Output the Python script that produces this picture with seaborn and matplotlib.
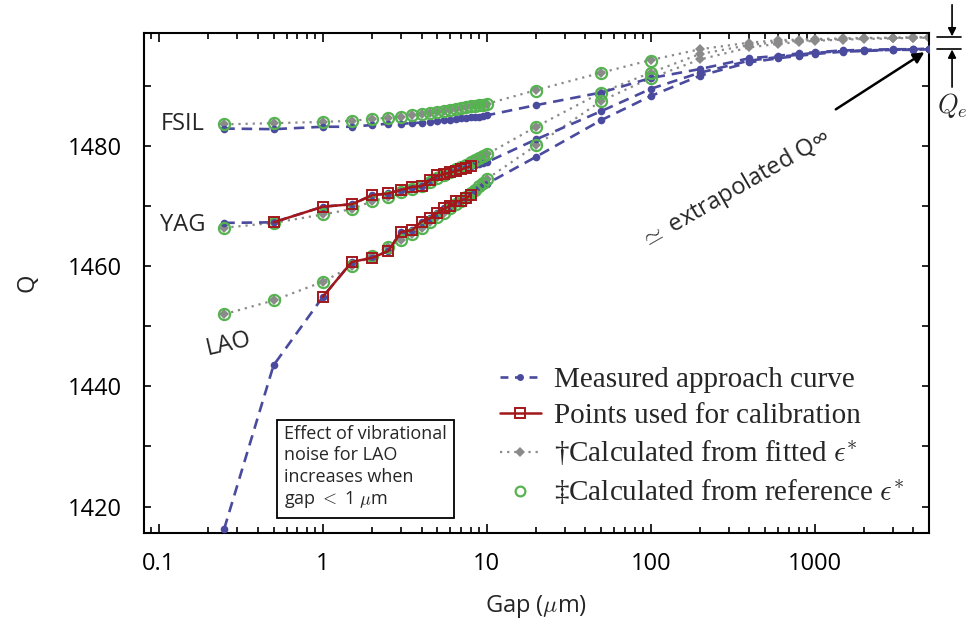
import matplotlib
matplotlib.use("Agg")
import matplotlib.pyplot as plt
import matplotlib.ticker as mticker
from matplotlib.lines import Line2D
from matplotlib.transforms import blended_transform_factory
import seaborn as sns

# ---- gap positions (micrometres) ----
gap_near = [0.25, 0.5, 1, 1.5, 2, 2.5, 3, 3.5, 4, 4.5, 5, 5.5, 6, 6.5, 7,
            7.5, 8, 8.5, 9, 9.5, 10]
gap_mid = [20, 50, 100]
gap_far = [200, 400, 600, 800, 1000, 1500, 2000, 3000, 4000, 5000]

# ---- measured approach curves ----
fsil_meas = [1482.9, 1482.8, 1483.2, 1483.2, 1483.5, 1483.7, 1483.7, 1483.8,
             1483.9, 1484.0, 1484.1, 1484.3, 1484.4, 1484.5, 1484.6, 1484.7,
             1484.8, 1484.8, 1484.9, 1485.0, 1485.1,
             1486.8, 1488.9, 1491.3,
             1492.8, 1494.6, 1495.0, 1495.4, 1495.6, 1495.9, 1496.0, 1496.1,
             1496.1, 1496.2]
yag_meas = [1467.2, 1467.3, 1469.9, 1470.3, 1471.8, 1472.1, 1472.7, 1473.2,
            1473.3, 1474.3, 1475.1, 1475.3, 1475.6, 1475.8, 1476.1, 1476.4,
            1476.6, 1476.8, 1477.0, 1477.2, 1477.3,
            1481.1, 1485.8, 1489.5,
            1492.2, 1494.2, 1494.8, 1495.2, 1495.5, 1495.8, 1495.9, 1496.0,
            1496.1, 1496.1]
lao_meas = [1416.3, 1443.5, 1454.9, 1460.7, 1461.4, 1462.5, 1465.7, 1466.0,
            1467.4, 1468.0, 1468.9, 1469.6, 1470.0, 1470.8, 1470.9, 1471.3,
            1471.9, 1472.5, 1473.0, 1473.4, 1473.7,
            1478.2, 1484.3, 1488.3,
            1491.7, 1493.9, 1494.6, 1495.0, 1495.3, 1495.7, 1495.8, 1496.0,
            1496.0, 1496.1]

# ---- points used for calibration ----
yag_cal_gap = [0.5, 1, 1.5, 2, 2.5, 3, 3.5, 4, 4.5, 5, 5.5, 6, 6.5, 7, 7.5, 8]
yag_cal = [1467.3, 1469.9, 1470.3, 1471.8, 1472.1, 1472.7, 1473.2, 1473.3,
           1474.3, 1475.1, 1475.3, 1475.6, 1475.8, 1476.1, 1476.4, 1476.6]
lao_cal_gap = [1, 1.5, 2, 2.5, 3, 3.5, 4, 4.5, 5, 5.5, 6, 6.5, 7, 7.5, 8]
lao_cal = [1454.9, 1460.7, 1461.4, 1462.5, 1465.7, 1466.0, 1467.4, 1468.0,
           1468.9, 1469.6, 1470.0, 1470.8, 1470.9, 1471.3, 1471.9]

# ---- calculated from fitted epsilon* ----
fsil_fit = [1483.6, 1483.8, 1484.0, 1484.2, 1484.5, 1484.7, 1484.9, 1485.1,
            1485.3, 1485.5, 1485.7, 1485.9, 1486.0, 1486.2, 1486.3, 1486.5,
            1486.6, 1486.7, 1486.8, 1486.9, 1487.0,
            1489.3, 1492.2, 1494.3,
            1496.1, 1497.2, 1497.6, 1497.7, 1497.8, 1497.9, 1498.0, 1498.0,
            1498.1, 1498.1]
yag_fit = [1466.4, 1467.2, 1468.6, 1469.5, 1470.8, 1471.5, 1472.3, 1472.9,
           1473.4, 1474.0, 1474.6, 1475.1, 1475.6, 1476.1, 1476.5, 1476.9,
           1477.3, 1477.7, 1478.0, 1478.3, 1478.6,
           1483.2, 1488.9, 1492.2,
           1495.3, 1496.8, 1497.3, 1497.5, 1497.6, 1497.8, 1497.9, 1498.0,
           1498.0, 1498.1]
lao_fit = [1452.0, 1454.3, 1457.4, 1460.0, 1461.7, 1463.2, 1464.4, 1465.4,
           1466.4, 1467.3, 1468.1, 1468.9, 1469.6, 1470.3, 1470.9, 1471.5,
           1472.1, 1472.7, 1473.3, 1473.9, 1474.5,
           1480.1, 1487.5, 1491.3,
           1494.4, 1496.4, 1497.0, 1497.3, 1497.5, 1497.7, 1497.8, 1497.9,
           1498.0, 1498.0]

# ---- calculated from reference epsilon* ----
fsil_ref = [1483.6, 1483.8, 1484.0, 1484.2, 1484.5, 1484.7, 1484.9, 1485.1,
            1485.3, 1485.5, 1485.7, 1485.9, 1486.0, 1486.2, 1486.3, 1486.5,
            1486.6, 1486.7, 1486.8, 1486.9, 1487.0,
            1489.2, 1492.1, 1494.2]
yag_ref = [1466.4, 1467.2, 1468.6, 1469.5, 1470.8, 1471.5, 1472.3, 1472.9,
           1473.4, 1474.0, 1474.6, 1475.1, 1475.6, 1476.1, 1476.5, 1476.9,
           1477.3, 1477.7, 1478.0, 1478.3, 1478.6,
           1483.1, 1488.9, 1492.2]
lao_ref = [1452.0, 1454.3, 1457.4, 1460.0, 1461.7, 1463.2, 1464.4, 1465.4,
           1466.4, 1467.3, 1468.1, 1468.9, 1469.6, 1470.3, 1470.9, 1471.5,
           1472.1, 1472.7, 1473.3, 1473.9, 1474.5,
           1480.1, 1487.5, 1491.3]

legend_labels = ["Measured approach curve",
                 "Points used for calibration",
                 r"†Calculated from fitted $\epsilon^{*}$",
                 r"‡Calculated from reference $\epsilon^{*}$"]

C_MEAS = "#4a4a9e"
C_CAL = "#a3171a"
C_FIT = "#8a8a8a"
C_REF = "#55b350"

sns.set_theme(style="ticks")
plt.rcParams["font.family"] = ["Open Sans", "DejaVu Sans"]
plt.rcParams["mathtext.fontset"] = "cm"

fig = plt.figure(figsize=(9.71, 6.30), dpi=100)
ax = fig.add_axes([0.1483, 0.154, 0.8085, 0.7936])

gap_all = gap_near + gap_mid + gap_far
gap_ref = gap_near + gap_mid

for vals in (fsil_fit, yag_fit, lao_fit):
    sns.lineplot(x=gap_all, y=vals, ax=ax, estimator=None, sort=False,
                 color=C_FIT, linestyle=(0, (1, 2.2)), lw=1.6, marker="D",
                 markersize=5.5, markeredgewidth=0, zorder=2)

for vals in (fsil_meas, yag_meas, lao_meas):
    sns.lineplot(x=gap_all, y=vals, ax=ax, estimator=None, sort=False,
                 color=C_MEAS, linestyle=(0, (4, 2.6)), lw=1.9, marker="o",
                 markersize=5.5, markeredgewidth=0, zorder=3)

for vals in (fsil_ref, yag_ref, lao_ref):
    sns.lineplot(x=gap_ref, y=vals, ax=ax, estimator=None, sort=False,
                 color=C_REF, linestyle="", marker="o", markersize=8,
                 markerfacecolor="none", markeredgecolor=C_REF,
                 markeredgewidth=1.6, zorder=4)

for gx, vals in ((yag_cal_gap, yag_cal), (lao_cal_gap, lao_cal)):
    sns.lineplot(x=gx, y=vals, ax=ax, estimator=None, sort=False,
                 color=C_CAL, linestyle="-", lw=1.8, marker="s",
                 markersize=7, markerfacecolor="none",
                 markeredgecolor=C_CAL, markeredgewidth=1.4, zorder=5)

# ---- axes ----
ax.set_xscale("log")
ax.set_xlim(0.081, 5000)
ax.set_ylim(1415.6, 1498.8)
ax.xaxis.set_major_locator(mticker.LogLocator(base=10, numticks=10))
ax.xaxis.set_minor_locator(mticker.LogLocator(base=10, subs=range(2, 10), numticks=20))
ax.xaxis.set_major_formatter(mticker.FuncFormatter(lambda v, p: f"{v:g}"))
ax.xaxis.set_minor_formatter(mticker.NullFormatter())
ax.yaxis.set_major_locator(mticker.MultipleLocator(20))
ax.yaxis.set_minor_locator(mticker.MultipleLocator(10))
ax.tick_params(which="both", direction="in", top=True, right=True,
               width=1.2, colors="black", labelsize=17)
ax.tick_params(axis="x", which="major", length=6.5, pad=14)
ax.tick_params(axis="x", which="minor", length=4.3)
ax.tick_params(axis="y", which="both", length=5.0, pad=16)
for sp in ax.spines.values():
    sp.set_linewidth(1.5)
    sp.set_color("black")

ax.set_xlabel(r"Gap ($\mu$m)", fontsize=17, labelpad=12)
ax.set_ylabel("Q", fontsize=17, labelpad=20)

# ---- material labels ----
ax.text(0.102, 1483.6, "FSIL", fontsize=17, ha="left", va="center")
ax.text(0.102, 1466.9, "YAG", fontsize=17, ha="left", va="center")
ax.text(0.265, 1447.0, "LAO", fontsize=17, ha="center", va="center",
        rotation=13, rotation_mode="anchor")

# ---- extrapolated Q annotation ----
ax.text(330, 1472.6, r"$\simeq$ extrapolated Q∞", fontsize=17,
        ha="center", va="center", rotation=30, rotation_mode="anchor")
ax.annotate("", xy=(5000, 1496.1), xytext=(1349, 1486.1),
            arrowprops=dict(arrowstyle="-|>", color="black", lw=1.8,
                            shrinkA=0, shrinkB=4, mutation_scale=16))

# ---- Q_e marker outside the right spine ----
trans = blended_transform_factory(ax.transAxes, ax.transData)
for qv in (fsil_fit[-1], fsil_meas[-1]):
    ax.plot([1.010, 1.041], [qv, qv], transform=trans, clip_on=False,
            color="black", lw=1.2)
ax.annotate("", xy=(1.0293, fsil_fit[-1] + 0.15), xytext=(1.0293, 1503.5),
            xycoords=trans, textcoords=trans, annotation_clip=False,
            arrowprops=dict(arrowstyle="-|>", color="black", lw=1.2,
                            shrinkA=0, shrinkB=0, mutation_scale=12))
ax.annotate("", xy=(1.0293, fsil_meas[-1] - 0.15), xytext=(1.0293, 1489.8),
            xycoords=trans, textcoords=trans, annotation_clip=False,
            arrowprops=dict(arrowstyle="-|>", color="black", lw=1.2,
                            shrinkA=0, shrinkB=0, mutation_scale=12))
ax.text(1.0293, 1486.8, r"$Q_e$", transform=trans, fontsize=19,
        ha="center", va="center", clip_on=False)

# ---- note box ----
ax.text(0.178, 0.045, "Effect of vibrational\nnoise for LAO\nincreases when\n"
        r"gap $<$ 1 $\mu$m", transform=ax.transAxes, fontsize=13,
        ha="left", va="bottom", linespacing=1.25,
        bbox=dict(boxstyle="square,pad=0.4", facecolor="white",
                  edgecolor="black", lw=1.3))

# ---- legend ----
handles = [
    Line2D([], [], color=C_MEAS, linestyle=(0, (3, 2.5)), lw=1.9, marker="o",
           markersize=5, markeredgewidth=0),
    Line2D([], [], color=C_CAL, linestyle="-", lw=1.8, marker="s",
           markersize=7, markerfacecolor="none", markeredgecolor=C_CAL,
           markeredgewidth=1.4),
    Line2D([], [], color=C_FIT, linestyle=(0, (1, 2.2)), lw=1.6, marker="D",
           markersize=5, markeredgewidth=0),
    Line2D([], [], color=C_REF, linestyle="", marker="o", markersize=7,
           markerfacecolor="none", markeredgecolor=C_REF, markeredgewidth=1.6),
]
ax.legend(handles, legend_labels, loc="upper left",
          bbox_to_anchor=(0.42, 0.385), frameon=False, handlelength=1.4,
          handletextpad=0.45, labelspacing=0.33,
          prop={"family": "Liberation Serif", "size": 21})

fig.savefig("out.png", dpi=100)
